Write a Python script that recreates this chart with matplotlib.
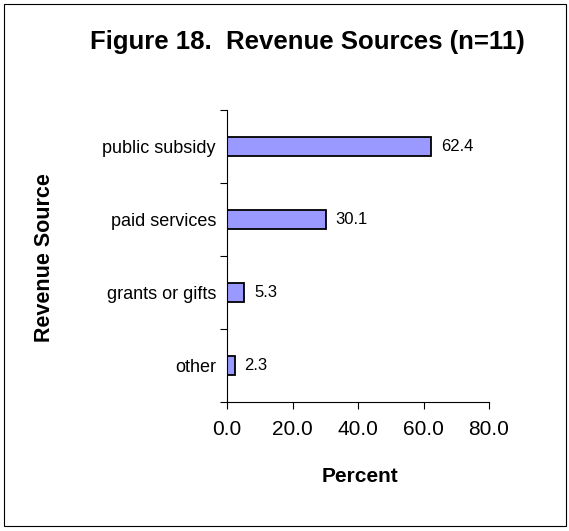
import numpy as np
import matplotlib.pyplot as plt
from matplotlib.patches import Rectangle

plt.rcParams['font.family'] = ['Liberation Sans', 'DejaVu Sans']

# data
sources = ['other', 'grants or gifts', 'paid services', 'public subsidy']
percent = np.array([2.3, 5.3, 30.1, 62.4])
xticks = [0, 20, 40, 60, 80]

fig = plt.figure(figsize=(5.69, 5.31), dpi=100)
fig.patches.append(Rectangle((0.007, 0.009), 0.987, 0.983, transform=fig.transFigure,
                             fill=False, edgecolor='black', linewidth=0.8))

ax = fig.add_axes([227 / 569, 1 - 402 / 531, (489 - 227) / 569, (402 - 110) / 531])
y = np.arange(len(sources))
ax.barh(y, percent, height=0.25, color='#9999FF', edgecolor='black', linewidth=1.3)

ax.set_xlim(0, 80)
ax.set_ylim(-0.5, len(sources) - 0.5)
ax.set_xticks(xticks)
ax.set_xticklabels([f'{t:.1f}' for t in xticks], fontsize=15)

# category labels between tick marks, like excel
ax.set_yticks(np.arange(-0.5, len(sources), 1.0))
ax.set_yticklabels([])
ax.set_yticks(y, minor=True)
ax.set_yticklabels(sources, minor=True, fontsize=13)
ax.tick_params(axis='y', which='minor', length=0, pad=8)
ax.tick_params(axis='y', which='major', length=5, direction='out')
ax.tick_params(axis='x', length=5, direction='out', pad=8)

for s in ['top', 'right']:
    ax.spines[s].set_visible(False)

for yi, v in zip(y, percent):
    ax.annotate(f'{v:.1f}', (v, yi), xytext=(7, 0), textcoords='offset points',
                va='center', ha='left', fontsize=12)

fig.text(360 / 569, 1 - 477 / 531, 'Percent', ha='center', va='center',
         fontsize=15, fontweight='bold')
fig.text(45 / 569, 1 - 258 / 531, 'Revenue Source', ha='center', va='center',
         rotation=90, fontsize=15.5, fontweight='bold')
fig.text(307 / 569, 1 - 42 / 531, 'Figure 18.  Revenue Sources (n=11)', ha='center', va='center',
         fontsize=18.5, fontweight='bold')

plt.savefig('out.png', dpi=100)
